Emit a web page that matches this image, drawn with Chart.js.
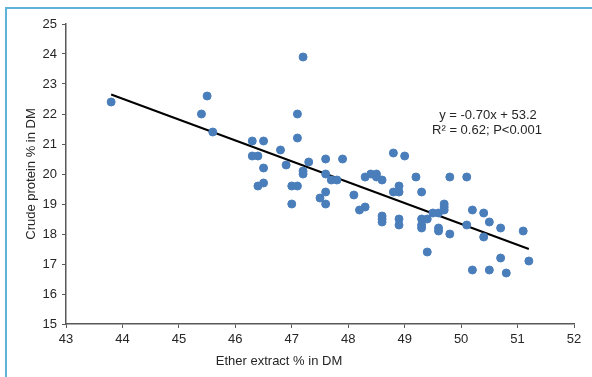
<!DOCTYPE html>
<html>
<head>
<meta charset="utf-8">
<script src="https://cdn.jsdelivr.net/npm/chart.js@4/dist/chart.umd.min.js"></script>
<style>
  html, body { margin: 0; padding: 0; background: #fff; }
  #wrap { position: relative; width: 592px; height: 377px; overflow: hidden; }
  #frame { position: absolute; left: 5px; top: 7px; width: 700px; height: 500px;
           border-left: 2px solid #5fb3db; border-top: 2px solid #5fb3db; }
  canvas { position: absolute; left: 0; top: 0; }
</style>
</head>
<body>
<div id="wrap">
  <div id="frame"></div>
  <canvas id="chart" width="592" height="377"></canvas>
</div>
<script>
// ether extract (x) and crude protein (y), % in DM
const etherExtract = [43.8, 45.4, 45.5, 45.6, 46.3, 46.5, 46.3, 46.4, 46.5, 46.4, 46.5, 46.8, 46.9,
  47.0, 47.1, 47.0, 47.1, 47.1, 47.2, 47.2, 47.2, 47.3, 47.5, 47.6, 47.6, 47.6, 47.6, 47.7, 47.8,
  47.9, 48.1, 48.2, 48.3, 48.3, 48.4, 48.5, 48.5, 48.6, 48.6, 48.6, 48.6, 48.8, 48.8, 48.9, 48.9,
  48.9, 48.9, 49.0, 49.2, 49.3, 49.3, 49.3, 49.3, 49.4, 49.4, 49.5, 49.6, 49.6, 49.6, 49.7, 49.7,
  49.7, 49.8, 49.8, 50.1, 50.1, 50.2, 50.2, 50.4, 50.4, 50.5, 50.5, 50.7, 50.7, 50.8, 51.1, 51.2];
const crudeProtein = [22.4, 22.0, 22.6, 21.4, 21.1, 21.1, 20.6, 20.6, 20.2, 19.6, 19.7, 20.8, 20.3,
  19.6, 19.6, 19.0, 22.0, 21.2, 23.9, 20.1, 20.0, 20.4, 19.2, 20.5, 20.0, 19.4, 19.0, 19.8, 19.8,
  20.5, 19.3, 18.8, 18.9, 19.9, 20.0, 20.0, 19.9, 19.8, 18.6, 18.5, 18.4, 20.7, 19.4, 19.6, 19.4,
  18.5, 18.3, 20.6, 19.9, 19.4, 18.5, 18.3, 18.2, 18.5, 17.4, 18.7, 18.7, 18.2, 18.1, 19.0, 18.9,
  18.8, 19.9, 18.0, 19.9, 18.3, 18.8, 16.8, 18.7, 17.9, 18.4, 16.8, 18.2, 17.2, 16.7, 18.1, 17.1];

// trendline end points
const trendX = [43.8, 51.2];
const trendY = [22.65, 17.5];

const equationLines = ['y = -0.70x + 53.2', 'R\u00b2 = 0.62; P<0.001'];
const xTitle = 'Ether extract % in DM';
const yTitle = 'Crude protein % in DM';

const points = etherExtract.map((x, i) => ({ x: x, y: crudeProtein[i] }));
const trend = trendX.map((x, i) => ({ x: x, y: trendY[i] }));

const textColor = '#262626';
const axisColor = '#595959';
const fontFamily = 'Arial, "Liberation Sans", sans-serif';

// axis titles + equation drawn by hand so they sit where the original has them
const labelsPlugin = {
  id: 'labels',
  afterDraw(chart) {
    const ctx = chart.ctx;
    ctx.save();
    ctx.fillStyle = textColor;
    ctx.font = '13px ' + fontFamily;
    ctx.textAlign = 'center';
    ctx.textBaseline = 'middle';
    ctx.fillText(equationLines[0], 488, 115);
    ctx.fillText(equationLines[1], 487, 130);
    ctx.fillText(xTitle, 279, 361);
    ctx.translate(31, (chart.chartArea.top + chart.chartArea.bottom) / 2);
    ctx.rotate(-Math.PI / 2);
    ctx.fillText(yTitle, 0, 0);
    ctx.restore();
  }
};

new Chart(document.getElementById('chart'), {
  type: 'scatter',
  data: {
    datasets: [
      {
        label: 'samples',
        data: points,
        backgroundColor: '#4a7ebb',
        borderColor: '#4a7ebb',
        pointRadius: 4,
        pointHoverRadius: 4
      },
      {
        label: 'trend',
        type: 'line',
        data: trend,
        borderColor: '#000',
        borderWidth: 2,
        pointRadius: 0,
        fill: false
      }
    ]
  },
  options: {
    responsive: false,
    animation: false,
    layout: { padding: { left: 0, right: 18, top: 24, bottom: 0 } },
    plugins: {
      legend: { display: false },
      tooltip: { enabled: false }
    },
    scales: {
      x: {
        type: 'linear',
        min: 43,
        max: 52,
        afterFit(scale) { scale.height = 53; },
        border: { color: axisColor, width: 1.5 },
        grid: { drawOnChartArea: false, drawTicks: true, tickLength: 4, color: axisColor },
        ticks: { stepSize: 1, color: textColor, padding: 4, font: { size: 13, family: fontFamily } }
      },
      y: {
        min: 15,
        max: 25,
        afterFit(scale) { scale.width = 66; },
        border: { color: axisColor, width: 1.5 },
        grid: { drawOnChartArea: false, drawTicks: true, tickLength: 4, color: axisColor },
        ticks: { stepSize: 1, color: textColor, padding: 5, font: { size: 13, family: fontFamily } }
      }
    }
  },
  plugins: [labelsPlugin]
});
</script>
</body>
</html>
